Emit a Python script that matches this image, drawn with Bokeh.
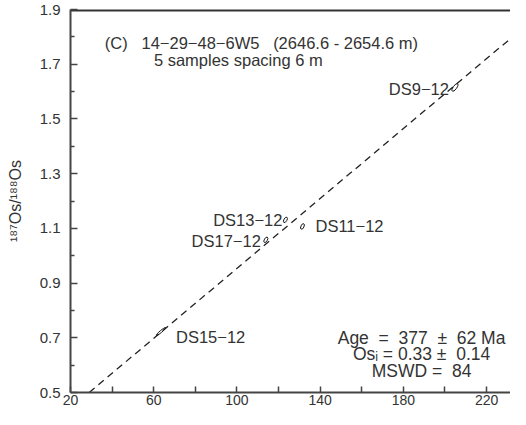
from bokeh.plotting import figure
from bokeh.models import FixedTicker, Label, ColumnDataSource
from bokeh.core.properties import value
from bokeh.embed import file_html
from bokeh.resources import INLINE
import math

# ---- data ----
sample_names = ["DS9\u221212", "DS13\u221212", "DS11\u221212", "DS17\u221212", "DS15\u221212"]
re_os = [204.8, 123.3, 131.5, 113.9, 63.5]          # 187Re/188Os
os_os = [1.615, 1.131, 1.107, 1.058, 0.723]         # 187Os/188Os

isochron_x = [29.0, 240.0]
isochron_y = [0.50, 1.848]

x_major = [20, 60, 100, 140, 180, 220]
x_minor = [40, 80, 120, 160, 200]
y_major = [0.5, 0.7, 0.9, 1.1, 1.3, 1.5, 1.7, 1.9]
y_minor = [0.6, 0.8, 1.0, 1.2, 1.4, 1.6, 1.8]

NB = "\u00a0"
title_text = "(C)" + NB * 3 + "14\u221229\u221248\u22126W5" + NB * 3 + "(2646.6 - 2654.6 m)"
subtitle_text = "5 samples spacing 6 m"
stats_text = ["Age" + NB * 2 + "=" + NB * 2 + "377" + NB * 2 + "\u00b1" + NB * 2 + "62 Ma",
              "Os\u1d62 = 0.33 \u00b1" + NB * 2 + "0.14",
              "MSWD" + NB + "=" + NB * 2 + "84"]
stats_y = [0.701, 0.639, 0.577]

# ---- styles (ellipse shapes in screen px, label offsets) ----
ell_len = [9, 6, 6, 6, 12]
ell_wid = [3.5, 3, 3, 3, 2]
ell_ang = [55, 60, 65, 60, 40]
lab_align = ["right", "right", "left", "right", "left"]
lab_dx = [-6, -3, 13, -5, 15]
lab_dy = [2, 0, 0, 1, 6]

FONT = "Liberation Sans"
TXT = "#333333"
AX = "#444444"

p = figure(width=510, height=409, x_range=(20, 231.5), y_range=(0.5, 1.9),
           output_backend="svg", toolbar_location=None,
           min_border_left=70, min_border_right=0, min_border_top=9, min_border_bottom=17)
p.grid.visible = False
p.outline_line_color = None
p.background_fill_color = "white"
p.border_fill_color = "white"

xa = p.below[0]
xa.ticker = FixedTicker(ticks=x_major, minor_ticks=x_minor)
ya = p.left[0]
ya.ticker = FixedTicker(ticks=y_major, minor_ticks=y_minor)

for ax in (xa, ya):
    ax.axis_line_color = AX
    ax.axis_line_width = 2
    ax.major_tick_line_color = AX
    ax.minor_tick_line_color = AX
    ax.major_tick_line_width = 1.5
    ax.minor_tick_line_width = 1.5
    ax.major_tick_out = 0
    ax.minor_tick_out = 0
    ax.major_label_text_font = FONT
    ax.major_label_text_color = TXT
xa.major_label_text_font_size = "14px"
ya.major_label_text_font_size = "15px"
xa.major_tick_in = 6
xa.minor_tick_in = 6
xa.major_label_standoff = 2
ya.major_tick_in = 7
ya.minor_tick_in = 4
ya.major_label_standoff = 10

ya.axis_label = "\u00b9\u2078\u2077Os/\u00b9\u2078\u2078Os"
ya.axis_label_text_font = FONT
ya.axis_label_text_font_size = "16px"
ya.axis_label_text_font_style = "normal"
ya.axis_label_text_color = TXT
ya.axis_label_standoff = 13

# top frame edge (drawn at the top of the y range; half of it shows inside the frame)
p.line([x_major[0], isochron_x[-1]], [y_major[-1], y_major[-1]],
       line_color="#333333", line_width=4)

# isochron
p.line(isochron_x, isochron_y, line_color="#222222", line_width=1.3, line_dash="7 5")

# error ellipses
src = ColumnDataSource(dict(x=re_os, y=os_os, w=ell_len, h=ell_wid,
                            a=[math.radians(v) for v in ell_ang]))
p.ellipse(x="x", y="y", width="w", height="h", angle="a", source=src,
          width_units="screen", height_units="screen",
          fill_color=None, line_color="#111111", line_width=1)

# sample labels
for align in ("right", "left"):
    idx = [i for i, a in enumerate(lab_align) if a == align]
    s = ColumnDataSource(dict(x=[re_os[i] for i in idx], y=[os_os[i] for i in idx],
                              t=[sample_names[i] for i in idx],
                              dx=[lab_dx[i] for i in idx], dy=[lab_dy[i] for i in idx]))
    p.text(x="x", y="y", text="t", x_offset="dx", y_offset="dy", source=s,
           text_font=value(FONT), text_font_size="16.5px", text_color=TXT,
           text_align=align, text_baseline="middle")

# top-left annotation
p.add_layout(Label(x=36.5, y=1.776, text=title_text, text_font=FONT, text_font_size="16.5px",
                   text_color=TXT, text_align="left", text_baseline="middle"))
p.add_layout(Label(x=60.1, y=1.714, text=subtitle_text, text_font=FONT, text_font_size="16.5px",
                   text_color=TXT, text_align="left", text_baseline="middle"))

# statistics block
for t, yy in zip(stats_text, stats_y):
    p.add_layout(Label(x=188.75, y=yy, text=t, text_font=FONT, text_font_size="17.5px",
                       text_color=TXT, text_align="center", text_baseline="middle"))

open("out.html", "w").write(file_html(p, INLINE))
